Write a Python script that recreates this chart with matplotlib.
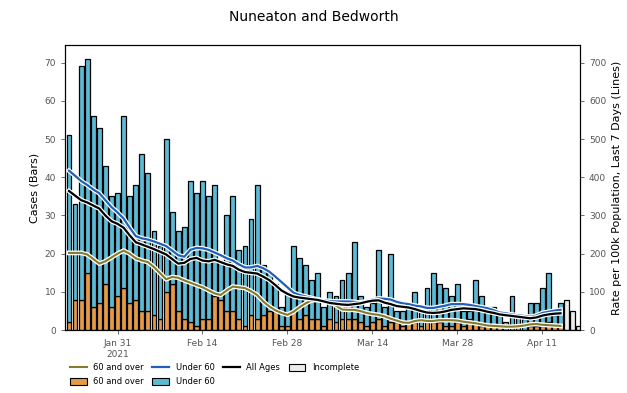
import numpy as np
import pandas as pd
from matplotlib import pyplot as plt
import matplotlib.patheffects as pe
from matplotlib.lines import Line2D
from matplotlib.patches import Patch


area = 'Nuneaton and Bedworth'

# daily cases, Jan 23 2021 onward (complete days)
over60_cases = [2, 8, 8, 15, 6, 7, 12, 6, 9, 11, 7, 8, 5, 5, 4, 3, 10, 12, 5, 3,
                2, 1, 3, 3, 9, 8, 5, 5, 3, 1, 4, 3, 4, 5, 5, 1, 1, 5, 3, 4,
                3, 3, 1, 3, 2, 3, 3, 3, 2, 1, 2, 3, 1, 2, 2, 1, 2, 2, 1, 2,
                2, 2, 1, 1, 2, 1, 3, 2, 1, 1, 1, 1, 0, 1, 1, 0, 1, 1, 1, 2,
                1, 1]
under60_cases = [49, 25, 61, 56, 50, 46, 31, 29, 27, 45, 28, 30, 41, 36, 22, 19, 40, 19, 21, 24,
                 37, 35, 36, 32, 29, 10, 25, 30, 18, 21, 25, 35, 13, 10, 7, 5, 9, 17, 16, 13,
                 10, 12, 5, 7, 7, 10, 12, 20, 7, 5, 5, 18, 5, 18, 3, 4, 4, 8, 4, 9,
                 13, 10, 10, 8, 10, 4, 2, 11, 8, 5, 5, 3, 2, 8, 3, 3, 6, 6, 10, 13,
                 3, 6]
incomplete_cases = [8, 5, 1]

# 7 day rate per 100k
rate_over60 = [202, 202, 202, 198, 186, 174, 180, 190, 200, 208, 200, 188, 182, 178, 165, 149, 133, 139, 137, 130,
               124, 118, 112, 104, 96, 92, 104, 114, 112, 110, 102, 92, 75, 62, 52, 45, 40, 48, 60, 70,
               78, 79, 77, 75, 64, 54, 53, 53, 50, 45, 42, 40, 36, 30, 25, 20, 19, 24, 26, 24,
               24, 26, 26, 26, 25, 22, 20, 18, 15, 12, 11, 10, 9, 9, 10, 12, 15, 16, 14, 13,
               12, 11]
rate_under60 = [417, 404, 390, 380, 368, 358, 340, 322, 308, 292, 268, 246, 240, 237, 232, 226, 220, 208, 196, 192,
                210, 215, 214, 210, 203, 196, 188, 182, 172, 164, 164, 168, 162, 153, 140, 126, 112, 98, 92, 88,
                84, 80, 78, 76, 75, 75, 75, 74, 72, 76, 80, 83, 82, 80, 74, 70, 68, 64, 62, 58,
                58, 61, 64, 68, 68, 68, 66, 63, 60, 57, 52, 46, 44, 41, 39, 37, 35, 38, 45, 48,
                51, 53]
rate_all = [364, 352, 340, 334, 326, 318, 300, 285, 278, 268, 248, 230, 224, 218, 212, 205, 198, 186, 174, 176,
            186, 189, 182, 180, 184, 178, 172, 168, 158, 152, 150, 148, 140, 131, 118, 104, 95, 88, 85, 83,
            81, 79, 75, 71, 69, 67, 66, 68, 70, 74, 77, 78, 72, 68, 63, 61, 59, 55, 50, 46,
            45, 46, 49, 53, 55, 57, 56, 55, 52, 48, 45, 41, 39, 37, 35, 33, 31, 33, 38, 41,
            43, 44]

tick_dates = ['2021-01-31', '2021-02-14', '2021-02-28', '2021-03-14', '2021-03-28', '2021-04-11']
tick_labels = ['Jan 31\n2021', 'Feb 14', 'Feb 28', 'Mar 14', 'Mar 28', 'Apr 11']

c_over = '#e59b45'
c_under = '#5bbbd6'
c_line_over = '#857a2c'
c_line_under = '#2060b8'

days = pd.date_range('2021-01-23', periods=len(over60_cases))
inc_days = pd.date_range(days[-1] + pd.Timedelta(days=1), periods=len(incomplete_cases))

fig = plt.figure(figsize=(6.27, 3.93), dpi=100)
ax1 = fig.add_axes([0.104, 0.160, 0.821, 0.725])

w = 0.8
ax1.bar(days, over60_cases, width=w, color=c_over, edgecolor='black', linewidth=0.9)
ax1.bar(days, under60_cases, width=w, bottom=over60_cases, color=c_under, edgecolor='black', linewidth=0.9)
ax1.bar(inc_days, incomplete_cases, width=w, color='#ececec', edgecolor='black', linewidth=0.9)

ax1.set_xlim(days[0] - pd.Timedelta(hours=15), inc_days[-1] + pd.Timedelta(hours=5))
top = max(np.array(over60_cases) + np.array(under60_cases)) * 1.05
ax1.set_ylim(0, top)
ax1.set_ylabel('Cases (Bars)', fontsize=8)

ax2 = ax1.twinx()
stroke = [pe.Stroke(linewidth=3.4, foreground='white'), pe.Normal()]
ax2.plot(days, rate_over60, color=c_line_over, lw=1.5, path_effects=stroke)
ax2.plot(days, rate_under60, color=c_line_under, lw=1.6, path_effects=stroke)
ax2.plot(days, rate_all, color='black', lw=1.6, path_effects=stroke)
ax2.set_ylim(0, top * 10)
ax2.set_ylabel('Rate per 100k Population, Last 7 Days (Lines)', fontsize=8)

ax1.set_xticks(pd.to_datetime(tick_dates))
ax1.set_xticklabels(tick_labels)
for a in (ax1, ax2):
    a.tick_params(labelsize=6.5, length=3, width=0.6, colors='#555555')
    for s in a.spines.values():
        s.set_linewidth(0.8)

fig.suptitle(area, y=0.975, fontsize=10)

handles = [
    Line2D([], [], color=c_line_over, lw=1.5),
    Patch(facecolor=c_over, edgecolor='black', linewidth=0.8),
    Line2D([], [], color=c_line_under, lw=1.6),
    Patch(facecolor=c_under, edgecolor='black', linewidth=0.8),
    Line2D([], [], color='black', lw=1.6),
    Patch(facecolor='#ececec', edgecolor='black', linewidth=0.8),
]
labels = ['60 and over', '60 and over', 'Under 60', 'Under 60', 'All Ages', 'Incomplete']
ax1.legend(handles, labels, loc='upper left', bbox_to_anchor=(-0.005, -0.09), ncol=4,
           frameon=False, fontsize=6, handleheight=1.0, labelspacing=0.6, columnspacing=1.0)

fig.savefig('out.png', dpi=100)
